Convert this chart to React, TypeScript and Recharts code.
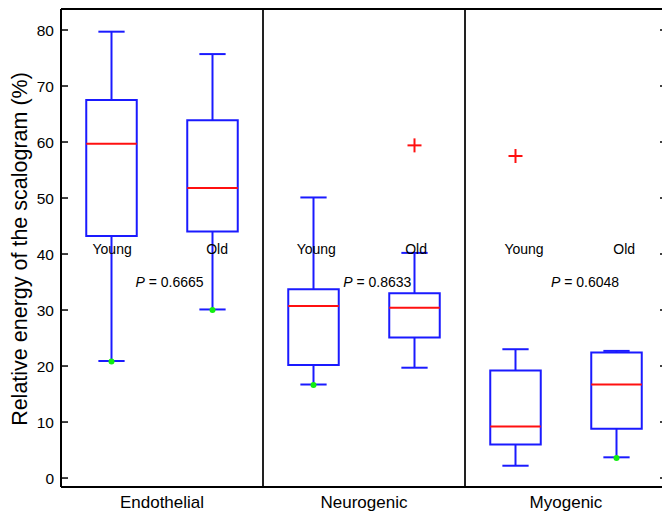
import {
  ComposedChart,
  XAxis,
  YAxis,
  Scatter,
  ReferenceArea,
  ReferenceLine,
  Label,
} from "recharts";

const FONT = "'Liberation Sans', Arial, sans-serif";
const BLUE = "#1a1aff";
const RED = "#ff1010";
const GREEN = "#11ee11";

// three groups, each with a Young and an Old box
const groups = ["Endothelial", "Neurogenic", "Myogenic"];
const ages = ["Young", "Old", "Young", "Old", "Young", "Old"];
const pValues = ["0.6665", "0.8633", "0.6048"];

// box statistics, one entry per box (left to right)
const whiskerLow = [20.9, 30.1, 16.7, 19.7, 2.2, 3.7];
const q1 = [43.2, 44.0, 20.2, 25.1, 6.0, 8.8];
const median = [59.7, 51.8, 30.7, 30.4, 9.2, 16.7];
const q3 = [67.5, 63.9, 33.7, 33.0, 19.2, 22.4];
const whiskerHigh = [79.7, 75.7, 50.1, 40.2, 23.0, 22.7];

// outliers (+) and green minimum markers: [box index, value]
const outliers = [
  [3, 59.4],
  [4, 57.5],
];
const minMarkers = [
  [0, 20.8],
  [1, 30.0],
  [2, 16.6],
  [5, 3.6],
];

// text annotation anchors in data units
const ageLabelX = [0.506, 1.545, 2.527, 3.516, 4.584, 5.576];
const ageLabelY = 40.0;
const pLabelX = [1.074, 3.131, 5.188];
const pLabelY = 34.1;

const yTicks = [0, 10, 20, 30, 40, 50, 60, 70, 80];
const xTicks = [1, 3, 5];
const Y_DOMAIN = [-1.6, 83.75];
const X_DOMAIN = [0, 6];

const BOX_HALF = 0.25;
const CAP_HALF = 0.13;

const boxes = median.map((m, i) => ({
  x: i + 0.5,
  lo: whiskerLow[i],
  q1: q1[i],
  med: m,
  q3: q3[i],
  hi: whiskerHigh[i],
}));

const outlierData = outliers.map(([b, v]) => ({ x: b + 0.5, y: v }));
const minData = minMarkers.map(([b, v]) => ({ x: b + 0.5, y: v }));
const ageData = ages.map((t, i) => ({ x: ageLabelX[i], y: ageLabelY, text: t }));
const pData = pValues.map((p, i) => ({ x: pLabelX[i], y: pLabelY, text: p }));

const PlusShape = (props: any) => {
  const { cx, cy } = props;
  return (
    <g stroke={RED} strokeWidth={2}>
      <line x1={cx - 7} y1={cy} x2={cx + 7} y2={cy} />
      <line x1={cx} y1={cy - 7} x2={cx} y2={cy + 7} />
    </g>
  );
};

const DotShape = (props: any) => (
  <circle cx={props.cx} cy={props.cy} r={3} fill={GREEN} />
);

const AgeText = (props: any) => (
  <text x={props.cx} y={props.cy} textAnchor="middle" fontSize={14} fontFamily={FONT} fill="#000">
    {props.payload.text}
  </text>
);

const PText = (props: any) => (
  <text x={props.cx} y={props.cy} textAnchor="middle" fontSize={14} fontFamily={FONT} fill="#000">
    <tspan fontStyle="italic">P</tspan>
    {` = ${props.payload.text}`}
  </text>
);

const NoTick = () => <g />;

const YTitle = (props: any) => {
  const vb = props.viewBox || { y: 9, height: 478 };
  const cy = vb.y + vb.height / 2 + 1;
  return (
    <text
      x={27}
      y={cy}
      transform={`rotate(-90, 27, ${cy})`}
      textAnchor="middle"
      fontSize={21.5}
      fontFamily={FONT}
      fill="#000"
    >
      Relative energy of the scalogram (%)
    </text>
  );
};

export default function App() {
  const axisLine = { stroke: "#000", strokeWidth: 2 };
  const tickLine = { stroke: "#000", strokeWidth: 1.5 };

  return (
    <div style={{ position: "fixed", left: 0, top: 0, width: 662, height: 512, overflow: "hidden", background: "#fff" }}>
      <ComposedChart width={680} height={512} margin={{ top: 9, right: 13, bottom: 0, left: 0 }}>
        <XAxis
          xAxisId={0}
          type="number"
          dataKey="x"
          domain={X_DOMAIN}
          allowDataOverflow
          ticks={xTicks}
          tickFormatter={(v: number) => groups[(v - 1) / 2]}
          height={25}
          tickSize={0}
          tickMargin={9}
          tickLine={false}
          axisLine={axisLine}
          tick={{ fontSize: 17, fill: "#000", fontFamily: FONT }}
        />
        <XAxis
          xAxisId="bm"
          type="number"
          domain={X_DOMAIN}
          allowDataOverflow
          ticks={xTicks}
          mirror
          tick={<NoTick />}
          tickSize={7}
          tickLine={tickLine}
          axisLine={false}
        />
        <XAxis
          xAxisId="tm"
          orientation="top"
          type="number"
          domain={X_DOMAIN}
          allowDataOverflow
          ticks={xTicks}
          mirror
          tick={<NoTick />}
          tickSize={7}
          tickLine={tickLine}
          axisLine={axisLine}
        />
        <YAxis
          yAxisId={0}
          type="number"
          dataKey="y"
          domain={Y_DOMAIN}
          allowDataOverflow
          ticks={yTicks}
          width={61}
          tickSize={0}
          tickMargin={7}
          tickLine={false}
          axisLine={axisLine}
          tick={{ fontSize: 15.5, fill: "#000", fontFamily: FONT }}
        >
          <Label content={<YTitle />} />
        </YAxis>
        <YAxis
          yAxisId="lm"
          type="number"
          domain={Y_DOMAIN}
          allowDataOverflow
          ticks={yTicks}
          mirror
          tick={<NoTick />}
          tickSize={7}
          tickLine={tickLine}
          axisLine={false}
        />
        <YAxis
          yAxisId="rm"
          orientation="right"
          type="number"
          domain={Y_DOMAIN}
          allowDataOverflow
          ticks={yTicks}
          mirror
          tick={<NoTick />}
          tickSize={7}
          tickLine={tickLine}
          axisLine={axisLine}
        />

        {/* group dividers */}
        <ReferenceLine x={2} stroke="#222" strokeWidth={2} />
        <ReferenceLine x={4} stroke="#222" strokeWidth={2} />

        {/* whiskers and caps */}
        {boxes.flatMap((b, i) => [
          <ReferenceLine key={`wu${i}`} segment={[{ x: b.x, y: b.q3 }, { x: b.x, y: b.hi }]} stroke={BLUE} strokeWidth={2} />,
          <ReferenceLine key={`wl${i}`} segment={[{ x: b.x, y: b.lo }, { x: b.x, y: b.q1 }]} stroke={BLUE} strokeWidth={2} />,
          <ReferenceLine key={`cu${i}`} segment={[{ x: b.x - CAP_HALF, y: b.hi }, { x: b.x + CAP_HALF, y: b.hi }]} stroke={BLUE} strokeWidth={2} />,
          <ReferenceLine key={`cl${i}`} segment={[{ x: b.x - CAP_HALF, y: b.lo }, { x: b.x + CAP_HALF, y: b.lo }]} stroke={BLUE} strokeWidth={2} />,
        ])}

        {/* boxes */}
        {boxes.map((b, i) => (
          <ReferenceArea
            key={`box${i}`}
            x1={b.x - BOX_HALF}
            x2={b.x + BOX_HALF}
            y1={b.q1}
            y2={b.q3}
            stroke={BLUE}
            strokeWidth={2}
            fill="none"
            fillOpacity={0}
          />
        ))}

        {/* medians */}
        {boxes.map((b, i) => (
          <ReferenceLine
            key={`med${i}`}
            segment={[{ x: b.x - BOX_HALF, y: b.med }, { x: b.x + BOX_HALF, y: b.med }]}
            stroke={RED}
            strokeWidth={2}
          />
        ))}

        <Scatter data={outlierData} shape={<PlusShape />} isAnimationActive={false} />
        <Scatter data={minData} shape={<DotShape />} isAnimationActive={false} />
        <Scatter data={ageData} shape={<AgeText />} isAnimationActive={false} />
        <Scatter data={pData} shape={<PText />} isAnimationActive={false} />
      </ComposedChart>
    </div>
  );
}
